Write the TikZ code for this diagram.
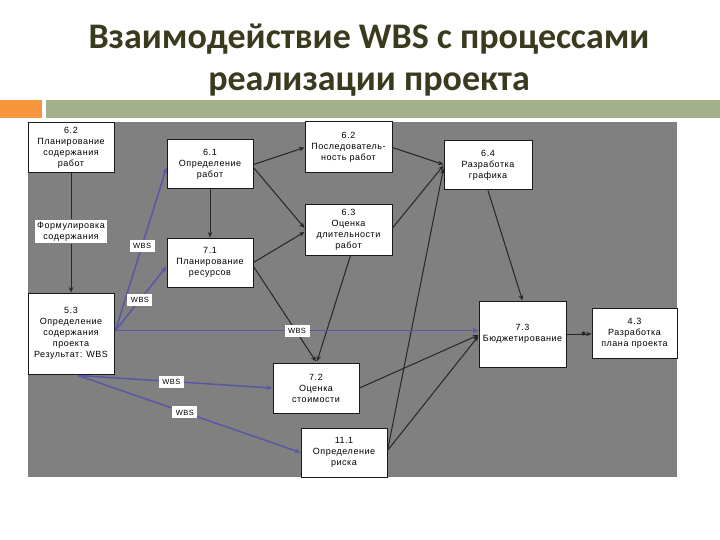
\documentclass[tikz,border=0pt]{standalone}
\usepackage{fontspec}
\setmainfont{Liberation Sans}
\newfontfamily\titlefont{Carlito}
\newfontfamily\boxfont[LetterSpace=6]{Liberation Sans}
\usetikzlibrary{arrows.meta,calc}
\definecolor{titlecol}{RGB}{58,58,30}
\definecolor{orangebar}{RGB}{247,150,60}
\definecolor{greenbar}{RGB}{164,176,138}
\definecolor{panel}{RGB}{128,128,128}
\definecolor{wbsblue}{RGB}{90,88,165}
\tikzset{
 box/.style={draw=black!90, line width=1pt, fill=white, align=center,
   font=\boxfont\fontsize{9}{11}\selectfont, inner sep=1pt},
 blk/.style={draw=black!85, line width=1pt, -{Stealth[length=5.5pt,width=4.5pt]}},
 blu/.style={draw=wbsblue, line width=1.5pt, -{Stealth[length=6pt,width=5pt]}},
 wbs/.style={fill=white, inner sep=1pt, font=\boxfont\fontsize{7.5}{8}\selectfont,
   minimum width=25pt, minimum height=12pt, text=black},
 ttl/.style={font=\titlefont\bfseries\fontsize{36}{40}\selectfont, text=titlecol, anchor=base}
}
\begin{document}
\begin{tikzpicture}[x=1pt,y=-1pt]
\useasboundingbox (0,0) rectangle (720,540);
\fill[white] (0,0) rectangle (720,540);
% title
\node[ttl] (t1) at (369,49) {Взаимодействие WBS с процессами};
\node[ttl] (t2) at (369,91) {реализации проекта};
% bars
\fill[orangebar] (0,100) rectangle (42,118);
\fill[greenbar] (46,100) rectangle (720,118);
% panel
\fill[panel] (28,122) rectangle (677,477);
% nodes
\node[box, minimum width=86pt, minimum height=50pt] (a62) at (71,147.5) {6.2\\Планирование\\содержания\\работ};
\node[box, minimum width=86pt, minimum height=49pt] (a61) at (210,164.5) {6.1\\Определение\\работ};
\node[box, minimum width=86pt, minimum height=49pt] (a71) at (210,262.5) {7.1\\Планирование\\ресурсов};
\node[box, minimum width=87pt, minimum height=51pt] (b62) at (348.5,147.5) {6.2\\Последователь-\\ность работ};
\node[box, minimum width=87pt, minimum height=50pt] (a63) at (348.5,230) {6.3\\Оценка\\длительности\\работ};
\node[box, minimum width=88pt, minimum height=49pt] (a64) at (488,165.5) {6.4\\Разработка\\графика};
\node[box, minimum width=86pt, minimum height=81pt] (a53) at (71,333.5) {5.3\\Определение\\содержания\\проекта\\Результат: WBS};
\node[box, minimum width=86pt, minimum height=50pt] (a72) at (316,388) {7.2\\Оценка\\стоимости};
\node[box, minimum width=86pt, minimum height=49pt] (a111) at (344,452.5) {11.1\\Определение\\риска};
\node[box, minimum width=87pt, minimum height=66pt] (a73) at (522.5,334) {7.3\\Бюджетирование};
\node[box, minimum width=85pt, minimum height=50pt] (a43) at (634.5,333.5) {4.3\\Разработка\\плана проекта};
\node[box, draw=none, minimum width=72pt, minimum height=23pt] (lab) at (71,231.5) {Формулировка\\содержания};
% black connectors
\draw[draw=black!85, line width=1pt] (a62.south) -- (lab.north);
\draw[blk] (lab.south) -- (a53.north);
\draw[blk] (a61.east) -- (b62.west);
\draw[blk] ($(a61.east)+(0,3)$) -- ($(a63.west)+(0,-2)$);
\draw[blk] (a61.south) -- (a71.north);
\draw[blk] (a71.east) -- ($(a63.west)+(0,2)$);
\draw[blk] ($(a71.east)+(0,4)$) -- ($(a72.north)+(0,-1)$);
\draw[blk] (b62.east) -- ($(a64.west)+(0,-1)$);
\draw[blk] ($(a63.east)+(0,-2)$) -- (a64.west);
\draw[blk] ($(a63.south)+(2,0)$) -- ($(a72.north)+(1,-1)$);
\draw[blk] (a64.south) -- (a73.north);
\draw[blk] ($(a111.east)+(0,-2)$) -- ($(a64.west)+(0,3)$);
\draw[blk] ($(a111.east)+(0,-2)$) -- ($(a73.west)+(0,2)$);
\draw[blk] (a72.east) -- ($(a73.west)+(0,1)$);
\draw[blk] (a73.east) -- (a73.east -| a43.west);
\fill[black!85] ($(a43.west)+(-8,0)$) circle (2pt);
% blue WBS connectors
\coordinate (s1) at ($(a53.east)+(1,-3)$);
\coordinate (s2) at ($(a53.south)+(7,1)$);
\draw[blu] (s1) -- ($(a61.west)+(0,3)$) node[wbs, pos=0.52] (w1) {WBS};
\draw[blu] (s1) -- ($(a71.west)+(0,4)$) node[wbs, pos=0.48] (w2) {WBS};
\draw[blu] (s1) -- (s1 -| a73.west) node[wbs, pos=0.5] (w3) {WBS};
\draw[blu] (s2) -- (a72.west) node[wbs, pos=0.48] (w4) {WBS};
\draw[blu] (s2) -- (a111.west) node[wbs, pos=0.48] (w5) {WBS};
\end{tikzpicture}
\end{document}
